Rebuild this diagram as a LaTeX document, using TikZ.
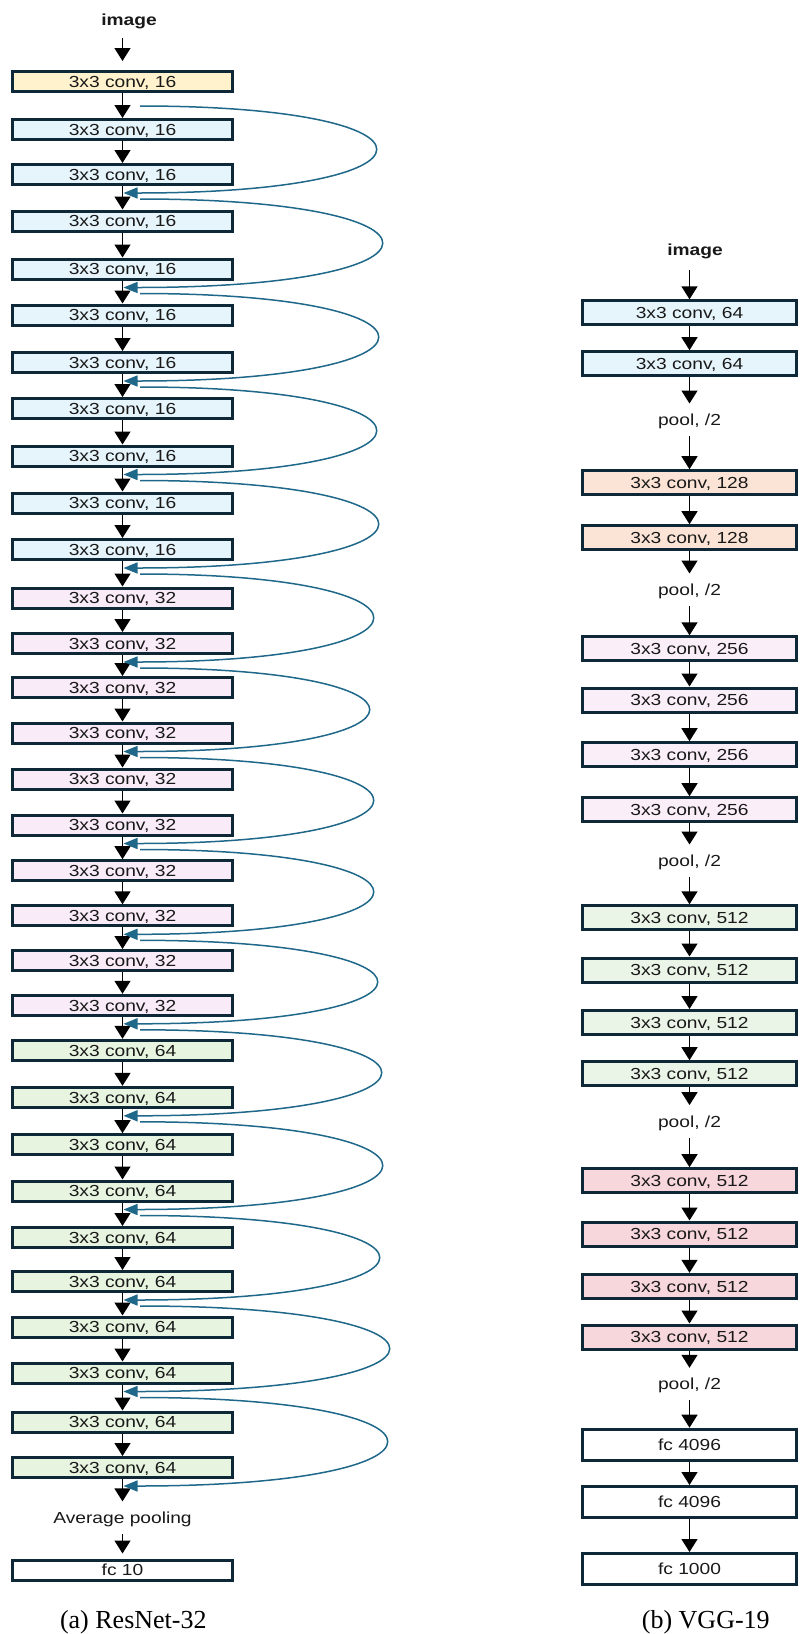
\documentclass[tikz,border=0pt]{standalone}
\usepackage{fontspec}
\newfontfamily\labfont{Liberation Sans}[FakeStretch=1.2]
\newfontfamily\capfont{Liberation Serif}
\usetikzlibrary{arrows.meta,calc}
\definecolor{bordc}{RGB}{14,40,56}
\definecolor{cY}{RGB}{255,242,204}
\definecolor{cB}{RGB}{230,245,252}
\definecolor{cP}{RGB}{249,235,248}
\definecolor{cG}{RGB}{231,245,224}
\definecolor{cO}{RGB}{251,228,213}
\definecolor{cV}{RGB}{250,238,249}
\definecolor{cE}{RGB}{235,245,231}
\definecolor{cR}{RGB}{247,214,220}
\definecolor{skipc}{RGB}{31,104,138}
\definecolor{txtc}{RGB}{25,25,25}
\begin{document}
\begin{tikzpicture}[x=1pt,y=1pt,
  lbox/.style={draw=bordc, line width=3pt, minimum width=220pt, minimum height=20pt,
    inner sep=0pt, text height=11.5pt, text depth=0pt,
    font=\labfont\fontsize{16}{18}\selectfont, text=txtc},
  vbox/.style={lbox, minimum width=214.6pt, minimum height=24pt},
  fcbox/.style={vbox, minimum height=31pt},
  lab/.style={inner sep=0pt, text height=11.5pt, text depth=0pt, minimum height=32pt,
    font=\labfont\fontsize{16}{18}\selectfont, text=txtc},
  blk/.style={-{Triangle[width=16pt,length=13pt]}, line width=1.4pt, black},
  skiparrow/.style={-{Triangle[width=11pt,length=14pt]}, line width=1.5pt, skipc},
]
\useasboundingbox (0,0) rectangle (800,-1634);

% ---------------- ResNet-32 ----------------
\node[lab, minimum height=36pt, font=\labfont\bfseries\fontsize{16}{18}\selectfont] (imgL) at (129,-20) {image};
\foreach \i/\y/\c/\n in {0/81.5/cY/16, 1/129.5/cB/16, 2/174.5/cB/16, 3/221/cB/16, 4/269/cB/16,
  5/315/cB/16, 6/362.5/cB/16, 7/408.5/cB/16, 8/456/cB/16, 9/503/cB/16, 10/549.5/cB/16,
  11/598/cP/32, 12/643.5/cP/32, 13/687.5/cP/32, 14/733/cP/32, 15/779/cP/32, 16/825/cP/32,
  17/870.7/cP/32, 18/915.8/cP/32, 19/960.5/cP/32, 20/1005.3/cP/32,
  21/1050.3/cG/64, 22/1097.3/cG/64, 23/1144.7/cG/64, 24/1191/cG/64, 25/1237.5/cG/64,
  26/1281.5/cG/64, 27/1327/cG/64, 28/1373/cG/64, 29/1422/cG/64, 30/1467.5/cG/64}
  \node[lbox, fill=\c] (L\i) at (122.5,-\y) {3x3 conv, \n};
\node[lab] (L31) at (122.5,-1517.6) {Average pooling};
\node[lbox, fill=white] (L32) at (122.5,-1570) {fc 10};

\draw[blk, shorten >=9pt] (imgL.south -| L0.north) -- (L0.north);
\foreach \i in {0,...,30} {
  \pgfmathtruncatemacro\j{\i+1}
  \draw[blk] (L\i.south) -- (L\j.north);
}
\draw[blk, shorten >=5pt] (L31.south) -- (L32.north);

% skip connections
\foreach \k/\R in {0/375, 1/381, 2/377, 3/375, 4/377, 5/372, 6/368, 7/372, 8/372, 9/376,
  10/380, 11/381, 12/378, 13/388, 14/386} {
  \pgfmathtruncatemacro\a{2*\k}
  \pgfmathtruncatemacro\c{2*\k+2}
  \pgfmathsetmacro\cx{(\R-32.9)/0.75}
  \pgfmathsetmacro\dxa{\cx-140}
  \pgfmathsetmacro\dxb{\cx-123.5}
  \coordinate (S\k) at ($(L\a.south)+(17.5,-13)$);
  \coordinate (E\k) at ($(L\c.south)+(1,-7)$);
  \draw[skiparrow] (S\k) .. controls ($(S\k)+(\dxa,0)$) and ($(E\k)+(\dxb,0)$) .. (E\k);
}

\node[font=\capfont\fontsize{26}{30}\selectfont, inner sep=0pt, text height=17.2pt, text depth=0pt, text=black] (capA) at (133.3,-1620) {(a) ResNet-32};

% ---------------- VGG-19 ----------------
\node[lab, minimum height=41.4pt, font=\labfont\bfseries\fontsize{16}{18}\selectfont] (imgV) at (695,-249.3) {image};
\foreach \nm/\y/\c/\n in {V1/312.8/cB/64, V2/363.7/cB/64, V3/482.7/cO/128, V4/537.7/cO/128,
  V5/648.8/cV/256, V6/700/cV/256, V7/754.7/cV/256, V8/809.7/cV/256,
  V9/917.8/cE/512, V10/970/cE/512, V11/1022.5/cE/512, V12/1073.7/cE/512,
  V13/1180.7/cR/512, V14/1234/cR/512, V15/1286.3/cR/512, V16/1337/cR/512}
  \node[vbox, fill=\c] (\nm) at (689.5,-\y) {3x3 conv, \n};
\foreach \nm/\y in {P1/419.7, P2/589.7, P3/860.7, P4/1121.3, P5/1384}
  \node[lab] (\nm) at (689.5,-\y) {pool, /2};
\node[fcbox, fill=white] (F1) at (689.5,-1444.7) {fc 4096};
\node[fcbox, fill=white] (F2) at (689.5,-1502) {fc 4096};
\node[fcbox, fill=white] (F3) at (689.5,-1569) {fc 1000};

\draw[blk] (imgV.south -| V1.north) -- (V1.north);
\foreach \p/\q in {V1/V2, V2/P1, P1/V3, V3/V4, V4/P2, P2/V5, V5/V6, V6/V7, V7/V8, V8/P3,
  P3/V9, V9/V10, V10/V11, V11/V12, V12/P4, P4/V13, V13/V14, V14/V15, V15/V16, V16/P5,
  P5/F1, F1/F2, F2/F3}
  \draw[blk] (\p.south) -- (\q.north);

\node[font=\capfont\fontsize{26}{30}\selectfont, inner sep=0pt, text height=17.2pt, text depth=0pt, text=black] (capB) at (705.8,-1620) {(b) VGG-19};
\end{tikzpicture}
\end{document}
